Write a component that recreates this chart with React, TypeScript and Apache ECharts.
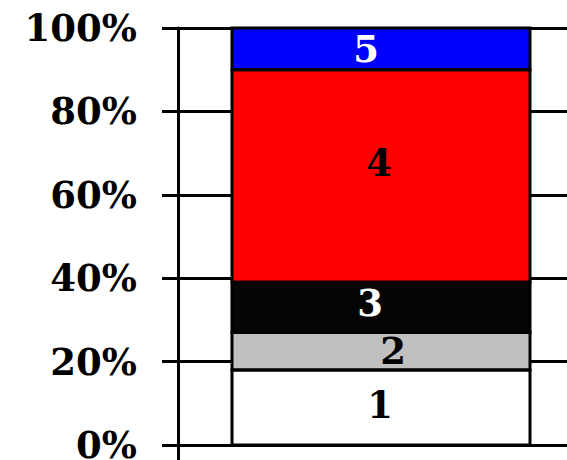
import React, { useEffect, useRef } from "react";
import * as echarts from "echarts";

// One stacked 100% column made of five numbered parts
const categories = ["A"];
const partNames = ["1", "2", "3", "4", "5"];
const partValues = [18, 9, 12, 51, 10];
const yTicks = [0, 20, 40, 60, 80, 100];

// Styling kept apart from the data
const BAR_WIDTH = 298;
const partColors = ["#ffffff", "#c0c0c0", "#050505", "#ff0000", "#0000ff"];
const labelColors = ["#000000", "#000000", "#ffffff", "#000000", "#ffffff"];
const labelOffsets: [number, number][] = [
  [-1, -2],
  [12, 0],
  [-11, -4],
  [-2, -13],
  [-15, 0],
];

const FONT = "'DejaVu Serif', 'Liberation Serif', serif";

export default function App() {
  const ref = useRef<HTMLDivElement>(null);

  useEffect(() => {
    if (!ref.current) return;
    const chart = echarts.init(ref.current, undefined, { renderer: "svg" });

    // Fill of every segment, stacked, with its number inside
    const barSeries = partNames.map((name, i) => ({
      name,
      type: "bar" as const,
      stack: "total",
      barWidth: BAR_WIDTH,
      data: [partValues[i]],
      itemStyle: { color: partColors[i], borderWidth: 0 },
      label: {
        show: true,
        position: "inside" as const,
        formatter: name,
        fontFamily: FONT,
        fontWeight: "bold" as const,
        fontSize: 37,
        color: labelColors[i],
        offset: labelOffsets[i],
      },
      z: 2,
    }));

    // Segment extents [category, start, end] for the black outlines
    const extents: number[][] = [];
    let acc = 0;
    partValues.forEach((v) => {
      extents.push([0, acc, acc + v]);
      acc += v;
    });

    const outlineSeries = {
      type: "custom" as const,
      data: extents,
      z: 3,
      silent: true,
      renderItem: (_params: any, api: any) => {
        const c = api.value(0);
        const p0 = api.coord([c, api.value(1)]);
        const p1 = api.coord([c, api.value(2)]);
        return {
          type: "rect",
          shape: {
            x: p0[0] - BAR_WIDTH / 2,
            y: p1[1],
            width: BAR_WIDTH,
            height: p0[1] - p1[1],
          },
          style: { fill: "none", stroke: "#000000", lineWidth: 3 },
        };
      },
    };

    chart.setOption({
      animation: false,
      backgroundColor: "#ffffff",
      grid: {
        left: 178,
        width: 406,
        top: 28,
        height: 417,
        containLabel: false,
        outerBoundsMode: "none",
      },
      xAxis: {
        type: "category",
        data: categories,
        axisLine: { show: false },
        axisLabel: { show: false },
        axisTick: {
          show: true,
          length: 15,
          lineStyle: { color: "#000000", width: 3 },
        },
        splitLine: { show: false },
      },
      yAxis: {
        type: "value",
        min: yTicks[0],
        max: yTicks[yTicks.length - 1],
        interval: yTicks[1] - yTicks[0],
        axisLine: { show: true, lineStyle: { color: "#000000", width: 3 } },
        axisTick: {
          show: true,
          length: 16,
          lineStyle: { color: "#000000", width: 3 },
        },
        splitLine: { show: true, lineStyle: { color: "#000000", width: 3 } },
        axisLabel: {
          formatter: "{value}%",
          fontFamily: FONT,
          fontWeight: "bold",
          fontSize: 37,
          lineHeight: 28,
          color: "#000000",
          margin: 41,
        },
      },
      series: [...barSeries, outlineSeries],
    });

    return () => chart.dispose();
  }, []);

  return (
    <div
      ref={ref}
      style={{ position: "fixed", left: 0, top: 0, width: 567, height: 460, background: "#ffffff" }}
    />
  );
}
